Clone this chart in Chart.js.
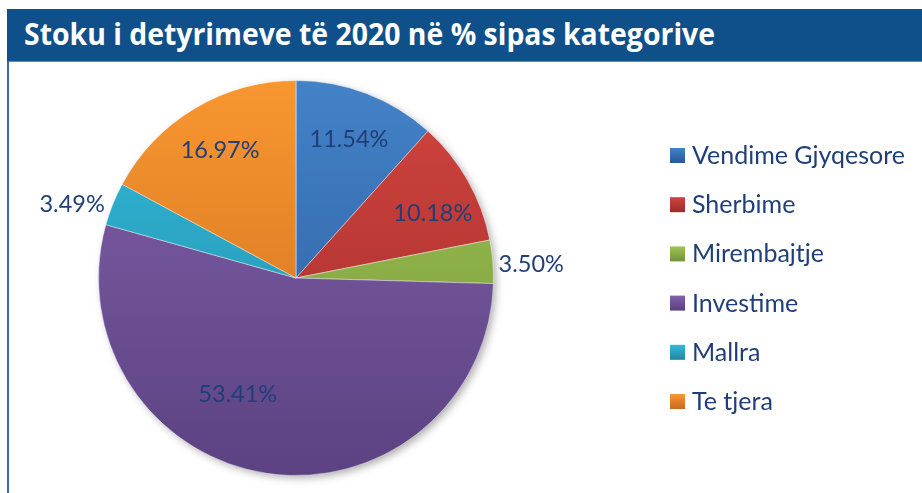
<!DOCTYPE html>
<html>
<head>
<meta charset="utf-8">
<script src="https://cdn.jsdelivr.net/npm/chart.js@4.4.0/dist/chart.umd.min.js"></script>
<style>
  body { margin: 0; background: #fff; width: 922px; height: 493px; overflow: hidden; position: relative; }
  .title-bar { position: absolute; left: 7px; top: 9px; width: 915px; height: 52px; background: #0f4f8a; border-bottom: 1px solid #5b8cc4; }
  .title-bar span { position: absolute; left: 17px; top: 3px; color: #fff; font-family: "Open Sans", sans-serif; font-weight: bold; font-size: 31px; white-space: nowrap; transform-origin: 0 0; }
  .left-line { position: absolute; left: 7px; top: 61px; width: 2px; height: 432px; background: #2f6cb3; }
  #wrap { position: absolute; left: 10px; top: 62px; width: 912px; height: 431px; }
</style>
</head>
<body>
<div class="title-bar"><span id="title">Stoku i detyrimeve të 2020 në % sipas kategorive</span></div>
<div class="left-line"></div>
<div id="wrap"><canvas id="pieChart" width="912" height="431"></canvas></div>
<script>
const categories = ['Vendime Gjyqesore', 'Sherbime', 'Mirembajtje', 'Investime', 'Mallra', 'Te tjera'];
const shares = [11.54, 10.18, 3.50, 53.41, 3.49, 16.97];

// gradient light -> dark, like the excel fill
const topColors = ['#4482c8', '#d2443f', '#a0c553', '#8360ab', '#33badb', '#f89730'];
const bottomColors = ['#285a99', '#9f2c2a', '#74953a', '#5b4282', '#2089a3', '#cc6c1f'];

const labelColor = '#203e78';
const labelFont = '23.5px Lato, sans-serif';
const legendFont = '25px Lato, sans-serif';

// squeeze the title to the width of the original
const title = document.getElementById('title');
title.style.transform = 'scaleX(' + (691 / title.getBoundingClientRect().width) + ')';

// extra shift for labels where excel "best fit" moved them
const labelNudge = { 1: [8, 9], 2: [1, 6], 3: [-36, -30], 4: [-6, 14] };

const pieShadow = {
  id: 'pieShadow',
  beforeDatasetsDraw(chart) {
    const arc = chart.getDatasetMeta(0).data[0];
    if (!arc) return;
    const { x, y, outerRadius } = arc.getProps(['x', 'y', 'outerRadius'], true);
    const ctx = chart.ctx;
    ctx.save();
    ctx.shadowColor = 'rgba(0,0,0,0.35)';
    ctx.shadowBlur = 8;
    ctx.shadowOffsetX = 3;
    ctx.shadowOffsetY = 3;
    ctx.fillStyle = '#777';
    ctx.beginPath();
    ctx.arc(x, y, outerRadius - 1, 0, Math.PI * 2);
    ctx.fill();
    ctx.restore();
  }
};

const sliceLabels = {
  id: 'sliceLabels',
  afterDatasetsDraw(chart) {
    const ctx = chart.ctx;
    const data = chart.data.datasets[0].data;
    ctx.save();
    ctx.font = labelFont;
    ctx.fillStyle = labelColor;
    ctx.textAlign = 'center';
    ctx.textBaseline = 'middle';
    chart.getDatasetMeta(0).data.forEach((arc, i) => {
      const p = arc.getProps(['x', 'y', 'startAngle', 'endAngle', 'outerRadius'], true);
      const mid = (p.startAngle + p.endAngle) / 2;
      const r = data[i] < 5 ? p.outerRadius * 1.19 : p.outerRadius * 0.75;
      let tx = p.x + Math.cos(mid) * r;
      let ty = p.y + Math.sin(mid) * r;
      if (labelNudge[i]) { tx += labelNudge[i][0]; ty += labelNudge[i][1]; }
      ctx.fillText(data[i].toFixed(2) + '%', tx, ty);
    });
    ctx.restore();
  }
};

const sideLegend = {
  id: 'sideLegend',
  afterDraw(chart) {
    const ctx = chart.ctx;
    const x0 = 660, y0 = 93, step = 49.2;
    ctx.save();
    ctx.font = legendFont;
    ctx.textBaseline = 'middle';
    chart.data.labels.forEach((lab, i) => {
      const y = y0 + i * step;
      const g = ctx.createLinearGradient(0, y - 7, 0, y + 7);
      g.addColorStop(0, topColors[i]);
      g.addColorStop(1, bottomColors[i]);
      ctx.fillStyle = g;
      ctx.fillRect(x0, y - 7, 15, 15);
      ctx.fillStyle = labelColor;
      ctx.fillText(lab, x0 + 22, y + 1);
    });
    ctx.restore();
  }
};

function sliceFill(c) {
  const area = c.chart.chartArea;
  const i = c.dataIndex;
  if (!area) return topColors[i];
  const g = c.chart.ctx.createLinearGradient(0, area.top, 0, area.bottom);
  g.addColorStop(0, topColors[i]);
  g.addColorStop(1, bottomColors[i]);
  return g;
}

new Chart(document.getElementById('pieChart'), {
  type: 'pie',
  data: {
    labels: categories,
    datasets: [{
      data: shares,
      backgroundColor: sliceFill,
      borderColor: 'rgba(255,255,255,0.45)',
      borderWidth: 1
    }]
  },
  options: {
    responsive: false,
    animation: false,
    layout: { padding: { left: 88, right: 428, top: 18, bottom: 17 } },
    plugins: {
      legend: { display: false },
      tooltip: { enabled: false }
    }
  },
  plugins: [pieShadow, sliceLabels, sideLegend]
});
</script>
</body>
</html>
